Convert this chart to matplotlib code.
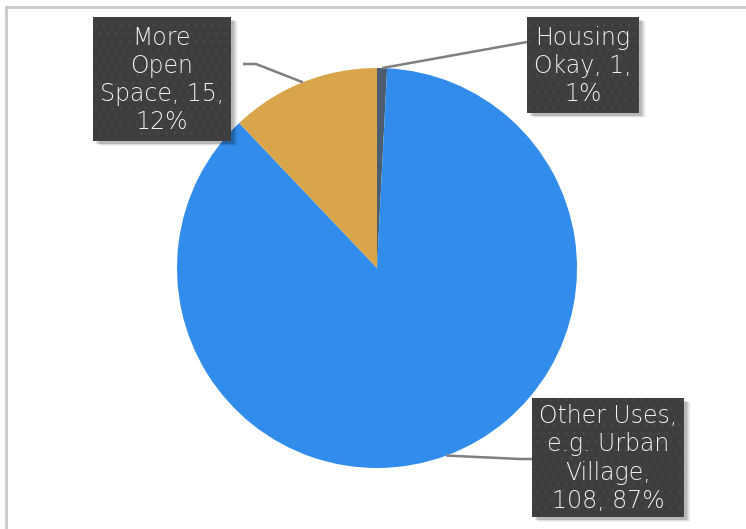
import numpy as np
import matplotlib.pyplot as plt
from matplotlib.patches import Rectangle

# data
categories = ['Housing Okay', 'Other Uses, e.g. Urban Village', 'More Open Space']
values = [1, 108, 15]
colors = ['#4B5D70', '#318CEB', '#D9A54A']

W, H = 746, 529
fig = plt.figure(figsize=(W / 100, H / 100), dpi=100)
ax = fig.add_axes([0, 0, 1, 1])

cx, cy, r = 377, H - 268, 200
wedges, _ = ax.pie(values, colors=colors, startangle=90, counterclock=False,
                   center=(cx, cy), radius=r, frame=True,
                   wedgeprops=dict(linewidth=0))
ax.set_xlim(0, W)
ax.set_ylim(0, H)
ax.set_aspect('equal')
ax.axis('off')

total = sum(values)
# line breaks as in the original labels
breaks = [
    lambda c, v, p: c.replace(' ', '\n') + f', {v},\n{p}',
    lambda c, v, p: 'Other Uses,\ne.g. Urban\nVillage,\n' + f'{v}, {p}',
    lambda c, v, p: c.replace(' ', '\n') + f', {v},\n{p}',
]
labels = [f(c, v, f'{round(100 * v / total)}%')
          for f, c, v in zip(breaks, categories, values)]

# label boxes (x0, y0 top, width, height) in pixels, and leader elbow points
boxes = [
    (527, 17, 112, 96),
    (532, 398, 152, 119),
    (93, 17, 138, 124),
]
leaders = [
    [(527, 42)],
    [(532, 459), (520, 459)],
    [(243, 64), (256, 64)],
]

for w, (bx, by, bw, bh), txt, pts in zip(wedges, boxes, labels, leaders):
    # leader line to wedge mid point
    ang = np.deg2rad((w.theta1 + w.theta2) / 2)
    ex, ey = cx + r * np.cos(ang), cy + r * np.sin(ang)
    xs = [p[0] for p in pts] + [ex]
    ys = [H - p[1] for p in pts] + [ey]
    ax.plot(xs, ys, color='#7f7f7f', lw=1.8, zorder=3, solid_capstyle='butt')

    # shadow
    for k, a in zip(range(1, 6), [0.10, 0.08, 0.06, 0.04, 0.03]):
        ax.add_patch(Rectangle((bx + 2 + k, H - by - bh - 2 - k * 0.6), bw, bh,
                               facecolor='black', alpha=a, lw=0, zorder=4))
    ax.add_patch(Rectangle((bx, H - by - bh), bw, bh, facecolor='#3E3E3E',
                           edgecolor='#474747', hatch='..', lw=0, zorder=5))
    ax.text(bx + bw / 2, H - by - bh / 2 - 1, txt, ha='center', va='center',
            color='#F0F0F0', fontsize=17, family='DejaVu Sans',
            fontweight='light', linespacing=1.22, zorder=6)

# chart border (top and left)
ax.plot([6, W], [H - 7, H - 7], color='#C8C8C8', lw=2, zorder=1)
ax.plot([6, 6], [0, H - 7], color='#C8C8C8', lw=2, zorder=1)

plt.savefig('out.png', dpi=100)
